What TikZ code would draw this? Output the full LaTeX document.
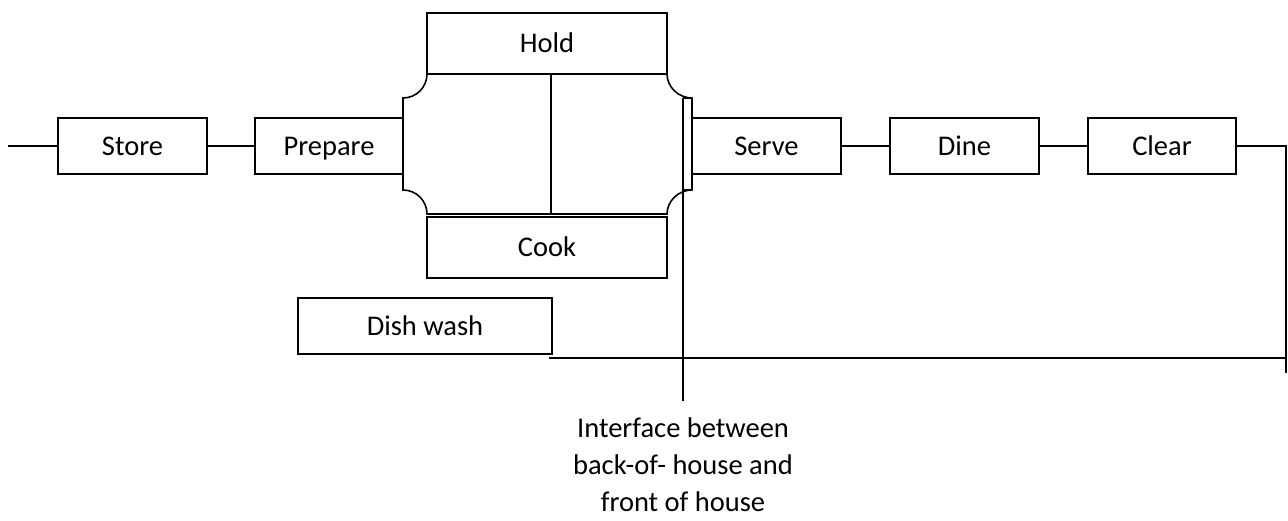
\documentclass[tikz,border=0pt]{standalone}
\usepackage{fontspec}
\setmainfont{Carlito}
\newcommand{\lblfont}{\fontsize{28.5}{37}\selectfont}
\begin{document}
\begin{tikzpicture}[x=1pt,y=-1pt,
  line/.style={line width=1.5pt, line cap=rect},
  box/.style={draw, line width=1.6pt, inner sep=0pt, font=\lblfont, text height=24pt, text depth=5.6pt, minimum width=149pt, minimum height=56pt},
  wbox/.style={box, minimum width=240pt, minimum height=61pt}]
\fill[white] (0,0) rectangle (1288,520);
\useasboundingbox (0,0) rectangle (1288,520);

% process boxes
\node[box] (store) at (132.5,146) {Store};
\node[box, minimum width=148pt] (prepare) at (329,146) {Prepare};
\node[wbox] (hold) at (547,43.5) {Hold};
\node[wbox] (cook) at (547,247.5) {Cook};
\node[box, minimum width=254pt] (dish) at (425,326) {Dish wash};
\node[box] (serve) at (766.5,146) {Serve};
\node[box] (dine) at (964.5,146) {Dine};
\node[box, minimum width=148pt] (clear) at (1162,146) {Clear};

% central plaque (kitchen area)
\draw[line width=1.6pt]
  (427,74) -- (667,74)
  .. controls (667,87.25) and (678.75,98) .. (692,98)
  -- (692,190)
  .. controls (678.75,190) and (667,200.75) .. (667,214)
  -- (427,214)
  .. controls (427,200.75) and (416.25,190) .. (403,190)
  -- (403,98)
  .. controls (416.25,98) and (427,87.25) .. (427,74) -- cycle;
\draw[line width=1.5pt] (551,74) -- (551,214);

% interface line
\coordinate (ifa) at (683,98);
\coordinate (ifb) at (683,401);
\coordinate (ifc) at (683,190);
\draw[line width=1.5pt] (ifa) -- (ifb);
\draw[line width=1.5pt] (ifa) -- (692,98);
\draw[line width=1.5pt] (ifc) -- (692,190);

% connectors
\coordinate (inlet) at (9,146);
\draw[line] (inlet) -- (store.west);
\draw[line] (store.east) -- (prepare.west);
\draw[line] (serve.east) -- (dine.west);
\draw[line] (dine.east) -- (clear.west);
\coordinate (rc) at (1286,373);
\draw[line, line cap=butt] (clear.east) -| (rc);
\coordinate (dw) at (549,358);
\coordinate (rj) at (1286,358);
\draw[line, line cap=butt] (dw) -- (rj);

% caption
\node[align=center, font=\lblfont, inner sep=0pt, text depth=0pt, anchor=south] (iftxt) at (683,511.5)
  {Interface between\\back-of- house and\\front of house};
\end{tikzpicture}
\end{document}
